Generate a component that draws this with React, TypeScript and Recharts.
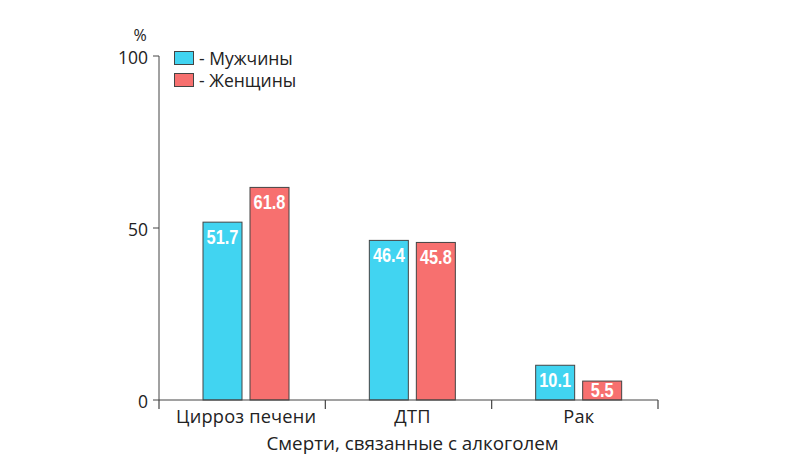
import React from "react";
import { BarChart, Bar, XAxis, YAxis, Legend } from "recharts";

const categories = ["Цирроз печени", "ДТП", "Рак"];
const menValues = [51.7, 46.4, 10.1];
const womenValues = [61.8, 45.8, 5.5];
const yTicks = [0, 50, 100];
const seriesNames = ["- Мужчины", "- Женщины"];
const xTitle = "Смерти, связанные с алкоголем";
const yUnit = "%";

const MEN_COLOR = "#41d4f1";
const WOMEN_COLOR = "#f7706f";
const EDGE = "#444";
const TEXT = "#222";
const FONT = "'Open Sans', 'Noto Sans', sans-serif";

const W = 800;
const H = 466;
const margin = { top: 56, right: 142, bottom: 16, left: 99 };
const plotWidth = W - margin.left - margin.right - 60;
const bandWidth = plotWidth / categories.length;
const SHIFT = 4;

const data = categories.map((name, i) => ({
  name,
  men: menValues[i],
  women: womenValues[i],
}));

// bar with its value printed in white, condensed, near the top
const makeShape = (key: "men" | "women") => (p: any) => {
  const v = p.payload ? p.payload[key] : p.value;
  const x = p.x + SHIFT;
  const cx = x + p.width / 2;
  const baseline = Math.min(p.y + 22, p.y + p.height - 3);
  return (
    <g>
      <rect x={x} y={p.y} width={p.width} height={p.height} fill={p.fill} stroke={EDGE} strokeWidth={1} />
      <text
        x={cx}
        y={baseline}
        textAnchor="middle"
        fill="#fff"
        fontFamily="'Liberation Sans Narrow', 'Liberation Sans', Arial, sans-serif"
        fontWeight="bold"
        fontSize={19.5}
        transform={`translate(${cx},0) scale(0.84,1) translate(${-cx},0)`}
      >
        {v}
      </text>
    </g>
  );
};

const XTick = (props: any) => {
  const { x, y, payload, index } = props;
  const left = x - bandWidth / 2;
  const right = x + bandWidth / 2;
  return (
    <g>
      <line x1={left} x2={left} y1={y - 9} y2={y} stroke={EDGE} strokeWidth={1.2} />
      {index === categories.length - 1 && (
        <line x1={right} x2={right} y1={y - 9} y2={y} stroke={EDGE} strokeWidth={1.2} />
      )}
      <text
        x={x + SHIFT}
        y={y + 14}
        textAnchor="middle"
        fill={TEXT}
        fontFamily={FONT}
        fontSize={18.2}
        letterSpacing={0.2}
      >
        {payload.value}
      </text>
    </g>
  );
};

const LegendBox = () => (
  <div style={{ fontFamily: FONT, fontSize: 17.5, color: TEXT, lineHeight: "22px" }}>
    {[MEN_COLOR, WOMEN_COLOR].map((c, i) => (
      <div key={i} style={{ display: "flex", alignItems: "center" }}>
        <span
          style={{
            display: "inline-block",
            width: 18,
            height: 12,
            background: c,
            border: `1px solid ${EDGE}`,
            marginRight: 5,
          }}
        />
        <span>{seriesNames[i]}</span>
      </div>
    ))}
  </div>
);

export default function App() {
  return (
    <div style={{ position: "absolute", left: 0, top: 0, width: W, height: H, background: "#fff" }}>
      <BarChart width={W} height={H} data={data} margin={margin} barSize={39} barGap={8} barCategoryGap={0}>
        <XAxis
          dataKey="name"
          stroke={EDGE}
          tickLine={false}
          tickSize={9}
          tickMargin={0}
          height={50}
          tick={<XTick />}
          interval={0}
          label={{
            content: ({ viewBox }: any) => (
              <text
                x={viewBox.x + viewBox.width / 2 + 4}
                y={450}
                textAnchor="middle"
                fill={TEXT}
                fontFamily={FONT}
                fontSize={18.8}
              >
                {xTitle}
              </text>
            ),
          }}
        />
        <YAxis
          width={60}
          domain={[0, 100]}
          ticks={yTicks}
          stroke={EDGE}
          tickSize={6}
          tickMargin={5}
          tick={{ fill: TEXT, fontFamily: FONT, fontSize: 17.5, dy: 2 }}
          label={{
            content: ({ viewBox }: any) => (
              <text
                x={viewBox.x + viewBox.width - 19}
                y={viewBox.y - 15}
                textAnchor="middle"
                fill={TEXT}
                fontFamily={FONT}
                fontSize={16}
              >
                {yUnit}
              </text>
            ),
          }}
        />
        <Legend
          layout="horizontal"
          align="center"
          verticalAlign="middle"
          content={<LegendBox />}
          wrapperStyle={{ left: 174, top: 47, width: "auto" }}
        />
        <Bar dataKey="men" name={seriesNames[0]} fill={MEN_COLOR} shape={makeShape("men")} isAnimationActive={false} />
        <Bar dataKey="women" name={seriesNames[1]} fill={WOMEN_COLOR} shape={makeShape("women")} isAnimationActive={false} />
      </BarChart>
    </div>
  );
}
